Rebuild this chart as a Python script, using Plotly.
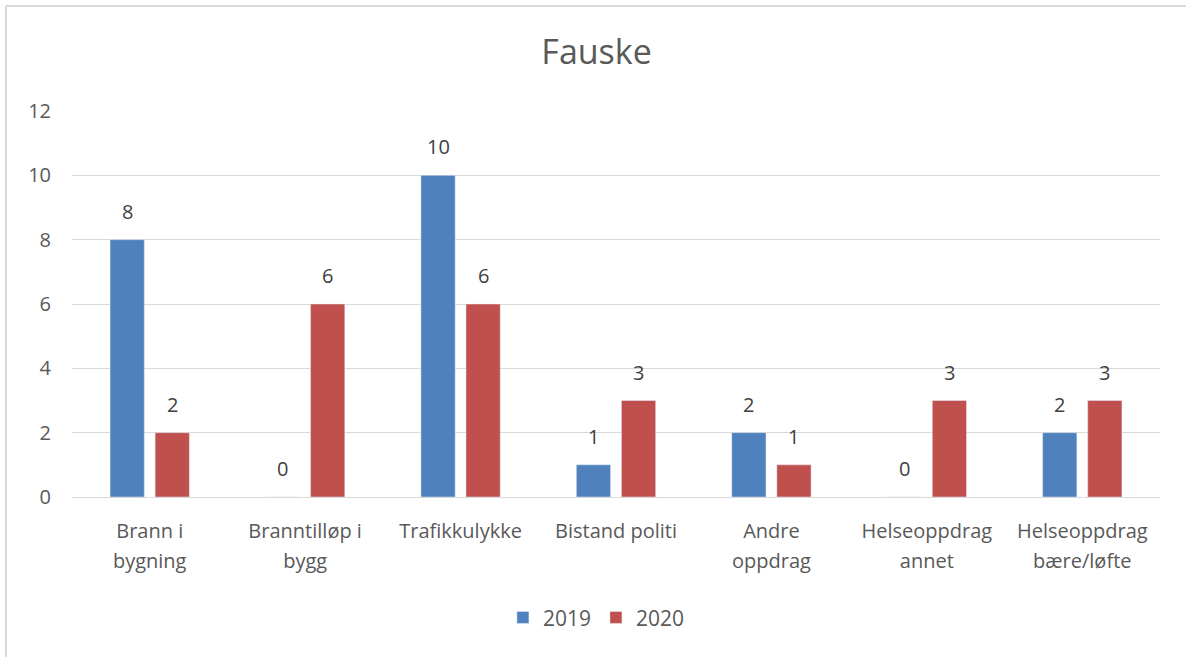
import plotly.graph_objects as go

categories = ["Brann i<br>bygning", "Branntilløp i<br>bygg", "Trafikkulykke", "Bistand politi",
              "Andre<br>oppdrag", "Helseoppdrag<br>annet", "Helseoppdrag<br>bære/løfte"]
values_2019 = [8, 0, 10, 1, 2, 0, 2]
values_2020 = [2, 6, 6, 3, 1, 3, 3]
y_ticks = [0, 2, 4, 6, 8, 10, 12]
title_text = "Fauske"

FONT = "'Open Sans', Lato, sans-serif"
TXT = "#595959"
BLUE = "#4F81BD"
RED = "#C0504D"
GRID = "#D9D9D9"
LBL = 20

fig = go.Figure()
fig.add_trace(go.Bar(name="2019", x=categories, y=values_2019, marker_color=BLUE))
fig.add_trace(go.Bar(name="2020", x=categories, y=values_2020, marker_color=RED))

# data labels above bars
for series, shift in ((values_2019, -22.5), (values_2020, 22.5)):
    for c, v in zip(categories, series):
        fig.add_annotation(x=c, y=v, xref="x", yref="y", text=str(v), showarrow=False,
                           xshift=shift, yshift=13, yanchor="bottom",
                           font=dict(family=FONT, size=LBL, color="#404040"))

# category tick text (each line in a span so the line spacing follows the larger tick font)
tick_text = ["<br>".join(f"<span style='font-size:{LBL}px'>{part}</span>" for part in c.split("<br>"))
             for c in categories]

# chart border (top and left)
fig.add_shape(type="line", xref="paper", yref="paper", x0=-0.0607, x1=1.03, y0=1.272, y1=1.272,
              line=dict(color=GRID, width=2))
fig.add_shape(type="line", xref="paper", yref="paper", x0=-0.0607, x1=-0.0607, y0=1.272, y1=-0.42,
              line=dict(color=GRID, width=2))

fig.update_layout(
    width=1186, height=657,
    margin=dict(l=72, r=26, t=111, b=160),
    paper_bgcolor="white", plot_bgcolor="white",
    barmode="group", bargap=0.42, bargroupgap=0.24,
    title=dict(text=title_text, x=0.503, xref="container", y=0.921, yref="container",
               xanchor="center", yanchor="middle",
               font=dict(family=FONT, size=34, color=TXT)),
    font=dict(family=FONT, size=LBL, color=TXT),
    legend=dict(orientation="h", x=0.482, xanchor="center", y=-0.313, yanchor="middle",
                font=dict(family=FONT, size=21, color=TXT), itemwidth=30),
    xaxis=dict(showline=True, linecolor=GRID, linewidth=1, showgrid=False,
               tickvals=categories, ticktext=tick_text,
               tickfont=dict(family=FONT, size=23, color=TXT), ticklabelstandoff=12),
    yaxis=dict(range=[0, 12], tickvals=y_ticks, showgrid=True, gridcolor=GRID, gridwidth=1,
               zeroline=False, showline=False,
               tickfont=dict(family=FONT, size=LBL, color=TXT), ticklabelstandoff=20),
)

fig.write_html("out.html", post_script="document.body.style.margin='0';",
               config={"displayModeBar": False})
